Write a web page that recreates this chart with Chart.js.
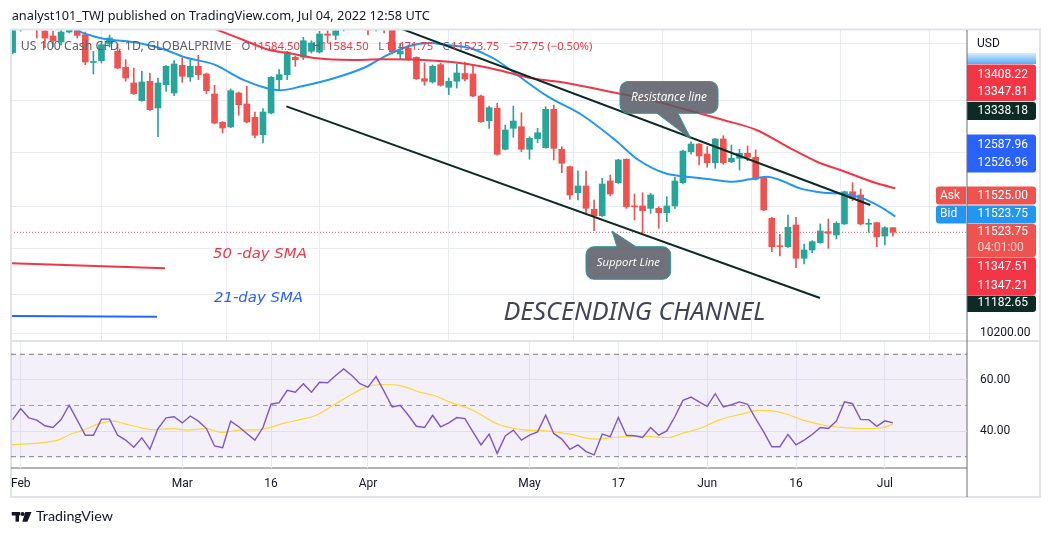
<!DOCTYPE html>
<html>
<head>
<meta charset="utf-8">
<title>US 100 Cash CFD</title>
<script src="https://cdn.jsdelivr.net/npm/chart.js@4.4.1/dist/chart.umd.min.js"></script>
<style>
  html, body { margin: 0; padding: 0; background: #fff; }
  #wrap { position: relative; width: 1049px; height: 536px; }
  #wrap canvas { position: absolute; left: 0; top: 0; }
</style>
</head>
<body>
<div id="wrap">
  <canvas id="price" width="1049" height="536"></canvas>
  <canvas id="rsi" width="1049" height="536"></canvas>
</div>
<script>
// ---- data (bar index 0 = Feb 1, -1 = Jan 31) ----
const firstBar = -1;
const opens = [13880,14254,14385,14464,14162,14097,14018,14149,14169,14114,
  13749,13773,13992,13896,13686,13481,13249,13503,13153,13458,
  13350,13713,13559,13700,13599,13337,12966,12904,13350,13206,
  13031,12803,13088,13524,13590,13818,13818,13896,13887,14123,
  14106,14188,14411,14306,14280,14202,14359,14280,13861,13939,
  13818,13537,13494,13721,13424,13503,13605,13599,13310,12987,
  13149,12612,12887,12908,12612,12751,12633,13136,12612,12384,
  12043,12131,11825,11741,12196,12174,12481,11869,11869,11838,
  11838,11781,11869,12174,12580,12681,12550,12436,12747,12449,
  12494,12559,12507,12245,11707,11344,11335,11620,11183,11292,
  11388,11532,11489,11633,12056,12013,11629,11650,11475,11584.5];
const highs = [14333,14438,14542,14516,14202,14162,14188,14280,14215,14149,
  13896,14027,14110,13992,13786,13677,13634,13612,13546,13710,
  13773,13808,13778,13844,13612,13451,12976,13402,13363,13438,
  13101,13144,13566,13655,13896,13831,14080,14035,14158,14166,
  14202,14464,14490,14385,14359,14385,14411,14306,14005,13966,
  13824,13743,13717,13743,13546,13730,13756,13717,13323,13179,
  13215,12930,13179,13091,12777,12887,13170,13192,12646,12393,
  12331,12327,11947,12232,12275,12481,12487,12026,12043,12035,
  11859,11990,12245,12603,12711,12688,12646,12753,12790,12668,
  12612,12655,12603,12253,11720,11498,11751,11720,11371,11414,
  11633,11698,11663,12065,12174,12091,11698,11656,11597,11584.5];
const lows = [13861,14162,14280,14070,13939,13953,13979,14136,14070,13721,
  13599,13743,13953,13668,13503,13330,13241,13120,12777,13372,
  13314,13490,13503,13524,13340,12946,12825,12894,13057,12959,
  12760,12694,13077,13393,13524,13700,13786,13874,13874,14005,
  14048,14162,14254,14188,14110,14162,14136,13861,13799,13776,
  13527,13451,13481,13441,13327,13415,13507,13301,12963,12887,
  12537,12603,12769,12580,12481,12698,12625,12472,12305,11956,
  11947,11773,11545,11731,12000,12164,11838,11685,11519,11773,
  11576,11663,11838,12157,12550,12406,12376,12363,12415,12436,
  12340,12462,12209,11807,11270,11213,11327,11060,11108,11257,
  11380,11314,11436,11626,11938,11620,11524,11335,11357,11471.75];
const closes = [14280,14359,14464,14215,14070,14031,14149,14228,14106,13756,
  13759,13983,14070,13677,13546,13340,13494,13131,13481,13700,
  13730,13569,13700,13590,13380,12956,12891,13380,13196,12970,
  12795,13101,13555,13590,13887,13786,14035,14005,14123,14106,
  14166,14411,14306,14202,14175,14333,14228,13887,13900,13786,
  13537,13503,13700,13451,13503,13612,13533,13310,12974,13157,
  12546,12865,12983,12612,12756,12829,13136,12625,12428,12013,
  12131,11838,11738,12157,12026,12472,11859,11857,11807,12013,
  11781,11869,12196,12589,12681,12524,12436,12747,12436,12494,
  12559,12507,12219,11816,11335,11334,11589,11183,11292,11401,
  11541,11511,11642,12056,11970,11633,11642,11466,11584,11523.75];

// moving averages: [bar index, price]
const sma21 = [[4.9,14306],[7.34,14153],[9.82,14071],[14.77,14001],[18.24,13904],[20.1,13825],
  [24.0,13721],[27.5,13524],[30.5,13411],[32.1,13385],[34.8,13437],[38.9,13546],[42.8,13694],
  [45.1,13831],[48.0,13962],[50.7,14005],[52.75,13979],[55.6,13939],[57.3,13870],[58.9,13782],
  [61.2,13608],[65.3,13301],[69.5,13061],[73.6,12734],[76.5,12471],[79.8,12297],[83.1,12245],
  [85.4,12218],[87.8,12187],[90.3,12218],[92.4,12253],[94.0,12209],[96.5,12100],[99.4,12043],
  [101.9,12026],[104.3,11969],[106.4,11860],[108.3,11731]];
const sma50 = [[22.8,14241],[24.4,14175],[27.5,14048],[30.7,13917],[33.3,13870],[36.7,13804],
  [40.8,13782],[44.9,13791],[49.2,13786],[53.4,13756],[57.3,13694],[59.1,13651],[63.3,13542],
  [67.4,13485],[71.5,13398],[74.4,13336],[78.1,13258],[81.8,13149],[87.0,12996],[91.1,12865],
  [95.3,12625],[98.6,12449],[101.5,12340],[106.0,12166],[108.3,12101]];

// drawn trend lines
const resistanceLine = [[47.0,14197],[105.2,11882]];
const supportLine = [[32.9,13175],[98.97,10663]];
const legendLine50 = [[-1.3,11118],[17.87,11052]];
const legendLine21 = [[-1.3,10427],[16.88,10418]];

// RSI(14) per bar and its moving average
const rsiValues = [44.5,48.8,45.2,44.3,42.1,41.4,44.5,50.1,44.3,38.4,
  38.4,44.7,44.7,38.4,36.5,33.7,37.4,32.9,41.0,45.2,
  45.6,43.2,45.9,43.9,41.0,34.2,33.5,43.9,41.7,39.1,
  36.5,41.4,50.5,51.1,55.9,55.2,58.5,55.2,59.1,58.9,
  61.7,64.3,61.7,58.5,57.2,61.3,55.5,49.4,50.1,46.2,
  41.9,41.4,46.2,41.7,43.2,45.3,44.9,39.7,34.6,38.8,
  31.3,38.1,40.4,36.5,38.4,39.7,46.2,39.1,36.9,32.9,
  34.6,32.0,30.7,38.8,37.8,45.3,38.4,38.2,37.5,41.4,
  38.4,40.1,45.6,52.0,53.3,51.4,49.7,54.6,49.4,50.3,
  51.4,50.5,44.9,39.7,33.9,33.9,38.7,34.6,36.5,38.7,
  41.4,41.0,43.9,51.4,50.7,44.5,44.5,41.9,44.0,43.2];
const rsiMA = [[-1.12,34.6],[1.56,35.2],[3.63,35.9],[4.87,36.8],[6.1,38.7],[7.75,40.4],[9.82,43.0],
  [11.47,43.9],[12.7,43.0],[14.77,41.4],[16.42,40.6],[18.9,41.0],[20.5,40.4],[23.0,41.0],
  [24.88,39.5],[27.15,40.4],[29.6,40.6],[30.9,41.4],[32.5,43.0],[34.6,44.5],[36.6,46.2],
  [38.7,50.1],[40.8,54.0],[42.8,57.2],[44.5,58.2],[46.97,57.8],[49.4,55.2],[51.1,54.0],
  [53.1,51.4],[56.0,48.1],[58.9,43.0],[62.0,40.6],[65.0,40.1],[68.0,38.8],[71.0,36.9],
  [73.6,37.5],[76.6,38.1],[78.3,37.8],[80.1,37.5],[82.2,39.4],[84.4,41.4],[86.1,43.9],
  [87.8,45.6],[89.5,46.8],[91.3,48.1],[93.0,47.9],[94.7,46.8],[96.9,44.3],[99.5,42.3],
  [102.0,41.4],[105.1,41.0],[106.8,41.4],[108,42.7]];
const rsiLevels = [70, 50, 30];

// time axis
const tickIdx = [0, 20, 31, 43, 63, 74, 85, 96, 107];
const tickText = ['Feb', 'Mar', '16', 'Apr', 'May', '17', 'Jun', '16', 'Jul'];
const priceGrid = [10200, 10711, 11314, 11868, 12572, 13249, 14005];
const rsiGrid = [40, 60];

// price scale labels
const sma50Tags = ['13408.22', '13347.81'];
const lineTagTop = '13338.18';
const sma21Tags = ['12587.96', '12526.96'];
const askPrice = '11525.00', bidPrice = '11523.75', countdown = '04:01:00';
const lowerTags = ['11347.51', '11347.21'];
const lineTagLow = '11182.65';

// ---- styling ----
const UP = '#26a69a', DOWN = '#ef5350';
const GRID = '#e9edf3';
const X_MIN = -1.2, X_MAX = 117.17;
const P_MIN = 10112.2, P_MAX = 14175.4;
const LINE_DARK = '#0b2b24';

Chart.defaults.font.family = 'Roboto';
Chart.defaults.color = '#131722';

const bars = opens.map((o, k) => ({ i: firstBar + k, o, h: highs[k], l: lows[k], c: closes[k] }));
const barColors = bars.map(b => (b.c >= b.o ? UP : DOWN));
const lastClose = closes[closes.length - 1];
const pts = arr => arr.map(([x, y]) => ({ x, y }));

function fitText(c, text, x, y, w, style, family, color, align) {
  c.font = style + ' 100px ' + family;
  const size = 100 * w / c.measureText(text).width;
  c.font = style + ' ' + size.toFixed(2) + 'px ' + family;
  c.fillStyle = color;
  c.textAlign = align || 'left';
  c.textBaseline = 'middle';
  c.fillText(text, x, y);
  return size;
}

function rrect(c, x, y, w, h, r) {
  const [tl, tr, br, bl] = r;
  c.moveTo(x + tl, y);
  c.lineTo(x + w - tr, y); c.arcTo(x + w, y, x + w, y + tr, tr);
  c.lineTo(x + w, y + h - br); c.arcTo(x + w, y + h, x + w - br, y + h, br);
  c.lineTo(x + bl, y + h); c.arcTo(x, y + h, x, y + h - bl, bl);
  c.lineTo(x, y + tl); c.arcTo(x, y, x + tl, y, tl);
  c.closePath();
}

// callout box with a pointer on the top or bottom edge
function callout(c, x1, y1, x2, y2, pa, pb, tx, ty, onTop, text, tw) {
  const r = 8;
  c.save();
  c.beginPath();
  c.moveTo(x1 + r, y1);
  if (onTop) { c.lineTo(pa, y1); c.lineTo(tx, ty); c.lineTo(pb, y1); }
  c.lineTo(x2 - r, y1); c.arcTo(x2, y1, x2, y1 + r, r);
  c.lineTo(x2, y2 - r); c.arcTo(x2, y2, x2 - r, y2, r);
  if (!onTop) { c.lineTo(pb, y2); c.lineTo(tx, ty); c.lineTo(pa, y2); }
  c.lineTo(x1 + r, y2); c.arcTo(x1, y2, x1, y2 - r, r);
  c.lineTo(x1, y1 + r); c.arcTo(x1, y1, x1 + r, y1, r);
  c.closePath();
  c.fillStyle = 'rgba(88,91,101,0.86)';
  c.fill();
  c.strokeStyle = '#2f9a9a';
  c.lineWidth = 1;
  c.stroke();
  fitText(c, text, (x1 + x2) / 2, (y1 + y2) / 2, tw, 'italic', '"Open Sans"', '#ffffff', 'center');
  c.restore();
}

function tagBox(c, top, bot, fill, rows) {
  c.beginPath();
  rrect(c, 967, top, 69, bot - top, [0, 3, 3, 0]);
  c.fillStyle = fill;
  c.fill();
  c.font = '12px Roboto';
  c.textAlign = 'left';
  c.textBaseline = 'middle';
  rows.forEach(([t, y, col]) => { c.fillStyle = col || '#ffffff'; c.fillText(t, 977.5, y); });
}

const overlay = {
  id: 'overlay',
  beforeDraw(chart) {
    const c = chart.ctx;
    c.save();
    c.fillStyle = '#ffffff';
    c.fillRect(0, 0, chart.width, chart.height);
    c.restore();
  },
  afterDraw(chart) {
    const c = chart.ctx;
    const yScale = chart.scales.y;
    c.save();

    // header and legend
    fitText(c, 'analyst101_TWJ published on TradingView.com, Jul 04, 2022 12:58 UTC', 11.7, 16, 418, '', '"Noto Sans"', '#131722');
    fitText(c, 'US 100 Cash CFD, 1D, GLOBALPRIME', 20.7, 46.5, 211, '', '"Noto Sans"', '#5d606b');
    c.font = '100px "Noto Sans"';
    const lsz = 100 * 48.3 / c.measureText('11584.50').width;
    c.font = lsz.toFixed(2) + 'px "Noto Sans"';
    c.textAlign = 'left';
    c.textBaseline = 'middle';
    [['O', 241.5, '#5d606b'], ['11584.50', 251.7, '#f23645'], ['H', 312.5, '#5d606b'], ['11584.50', 320.5, '#f23645'],
     ['L', 378.3, '#5d606b'], ['11471.75', 385, '#f23645'], ['C', 442.5, '#5d606b'], ['11523.75', 451, '#f23645'],
     ['\u221257.75 (\u22120.50%)', 509, '#f23645']].forEach(([t, x, col]) => { c.fillStyle = col; c.fillText(t, x, 46.5); });

    // annotation texts
    fitText(c, '50 -day SMA', 213, 254.5, 94, 'italic', '"DejaVu Sans"', '#f23645');
    fitText(c, '21-day SMA', 214, 298.5, 89, 'italic', '"DejaVu Sans"', '#2962ff');
    fitText(c, 'DESCENDING CHANNEL', 503.5, 313, 262, 'italic', '"Noto Sans"', '#434651');

    callout(c, 620, 81.5, 718, 113.3, 657, 678, 691, 139, false, 'Resistance line', 76);
    callout(c, 586, 246.7, 670.7, 279.3, 617, 636, 612, 231, true, 'Support Line', 63);

    // price scale tags
    c.fillStyle = '#131722';
    c.font = '12px Roboto';
    c.textAlign = 'left';
    c.textBaseline = 'middle';
    c.fillText('USD', 977, 44);
    const g = c.createLinearGradient(0, 52, 0, 64);
    g.addColorStop(0, 'rgba(66,165,245,0.15)');
    g.addColorStop(1, 'rgba(66,165,245,0.9)');
    c.fillStyle = g;
    c.fillRect(967, 53, 69, 11);
    tagBox(c, 64.5, 101, '#f23645', [[sma50Tags[0], 74.7], [sma50Tags[1], 92.3]]);
    tagBox(c, 102, 120, LINE_DARK, [[lineTagTop, 111.3]]);
    tagBox(c, 134.5, 172.5, '#2962ff', [[sma21Tags[0], 144.7], [sma21Tags[1], 163.3]]);
    tagBox(c, 186.5, 204.5, '#ef5350', [[askPrice, 195.5]]);
    tagBox(c, 205.5, 223.5, '#2196f3', [[bidPrice, 214.3]]);
    const py = yScale.getPixelForValue(lastClose);
    tagBox(c, 224, 257, '#ef5350', [[lastClose.toFixed(2), py], [countdown, 247.7, 'rgba(255,255,255,0.72)']]);
    tagBox(c, 257.5, 295, '#f23645', [[lowerTags[0], 266.7], [lowerTags[1], 285.7]]);
    tagBox(c, 295.5, 312, LINE_DARK, [[lineTagLow, 303.3]]);
    [['Ask', 186.5, '#ef5350', 195.5], ['Bid', 205.5, '#2196f3', 214.3]].forEach(([t, top, col, ty]) => {
      c.beginPath();
      rrect(c, 936, top, 30, 18, [3, 0, 0, 3]);
      c.fillStyle = col;
      c.fill();
      c.fillStyle = '#ffffff';
      c.font = '12px Roboto';
      c.fillText(t, 940, ty);
    });

    // widget frame and pane separators
    c.strokeStyle = '#e0e3eb';
    c.lineWidth = 2;
    c.strokeRect(11, 29.5, 1029, 467.5);
    c.fillStyle = '#e0e3eb';
    c.fillRect(11, 340, 1029, 2);
    c.fillStyle = '#6a6d78';
    c.fillRect(966.5, 30, 1, 467);
    c.fillRect(11, 467.5, 956, 1);

    // TradingView mark
    c.fillStyle = '#131722';
    c.fillRect(11.7, 512, 8.5, 3.5);
    c.fillRect(15.5, 512, 3.5, 9.7);
    c.beginPath();
    c.arc(22.6, 514, 2.1, 0, Math.PI * 2);
    c.fill();
    c.beginPath();
    c.moveTo(25.3, 512); c.lineTo(31.5, 512); c.lineTo(27.4, 521.7); c.lineTo(22.3, 521.7);
    c.closePath();
    c.fill();
    fitText(c, 'TradingView', 36, 516.7, 77, '', 'Lato', '#131722');
    c.restore();
  }
};

const lineDs = (data, color, width, order, extra) => Object.assign({
  type: 'line', data: pts(data), borderColor: color, borderWidth: width,
  pointRadius: 0, fill: false, order, clip: 0
}, extra || {});

new Chart(document.getElementById('price'), {
  type: 'bar',
  data: {
    datasets: [
      { type: 'bar', data: bars.map(b => ({ x: b.i, y: [b.l, b.h] })), backgroundColor: barColors,
        barThickness: 1, grouped: false, borderWidth: 0, order: 20, clip: 0 },
      { type: 'bar', data: bars.map(b => ({ x: b.i, y: [b.o, b.c] })), backgroundColor: barColors,
        barThickness: 6, minBarLength: 1, grouped: false, borderWidth: 0, order: 19, clip: 0 },
      lineDs([[X_MIN, lastClose], [X_MAX, lastClose]], '#ef5350', 1, 15, { borderDash: [1, 2] }),
      lineDs(sma21, '#2196f3', 2, 6, { cubicInterpolationMode: 'monotone' }),
      lineDs(sma50, '#f23645', 2, 5, { cubicInterpolationMode: 'monotone' }),
      lineDs(resistanceLine, LINE_DARK, 2, 2),
      lineDs(supportLine, LINE_DARK, 2, 2),
      lineDs(legendLine50, '#f23645', 2, 3),
      lineDs(legendLine21, '#2962ff', 2, 3)
    ]
  },
  options: {
    responsive: false,
    animation: false,
    events: [],
    layout: { padding: { left: 11, right: 9, top: 30, bottom: 196 }, autoPadding: false },
    plugins: { legend: { display: false }, tooltip: { enabled: false } },
    scales: {
      x: {
        type: 'linear', min: X_MIN, max: X_MAX, offset: false,
        afterBuildTicks: s => { s.ticks = tickIdx.map(v => ({ value: v })); },
        afterFit: s => { s.height = 0; },
        ticks: { display: false },
        grid: { color: GRID, drawTicks: false },
        border: { display: false }
      },
      y: {
        type: 'linear', position: 'right', min: P_MIN, max: P_MAX,
        afterBuildTicks: s => { s.ticks = priceGrid.map(v => ({ value: v })); },
        afterFit: s => { s.width = 73; },
        ticks: { callback: v => (v === 10200 ? v.toFixed(2) : ''), padding: 13, font: { size: 12 }, color: '#131722' },
        grid: { color: GRID, drawTicks: false },
        border: { display: false }
      }
    }
  },
  plugins: [overlay]
});

new Chart(document.getElementById('rsi'), {
  type: 'line',
  data: {
    datasets: [
      lineDs([[X_MIN, rsiLevels[0]], [X_MAX, rsiLevels[0]]], '#787b86', 1, 10, { borderDash: [5, 4] }),
      lineDs([[X_MIN, rsiLevels[2]], [X_MAX, rsiLevels[2]]], '#787b86', 1, 9,
        { borderDash: [5, 4], fill: '-1', backgroundColor: 'rgba(126,87,194,0.09)' }),
      lineDs([[X_MIN, rsiLevels[1]], [X_MAX, rsiLevels[1]]], 'rgba(120,123,134,0.7)', 1, 8, { borderDash: [5, 4] }),
      lineDs(rsiMA, '#fdd835', 1.2, 2, { cubicInterpolationMode: 'monotone' }),
      lineDs(rsiValues.map((v, k) => [firstBar + k, v]), '#7e57c2', 1.4, 1)
    ]
  },
  options: {
    responsive: false,
    animation: false,
    events: [],
    layout: { padding: { left: 11, right: 9, top: 342, bottom: 39 }, autoPadding: false },
    plugins: { legend: { display: false }, tooltip: { enabled: false } },
    scales: {
      x: {
        type: 'linear', min: X_MIN, max: X_MAX, offset: false,
        afterBuildTicks: s => { s.ticks = tickIdx.map(v => ({ value: v })); },
        afterFit: s => { s.height = 29; },
        ticks: { callback: (v, k) => tickText[k], autoSkip: false, maxRotation: 0, padding: 9,
                 font: { size: 12 }, color: '#131722' },
        grid: { color: GRID, drawTicks: false },
        border: { display: false }
      },
      y: {
        type: 'linear', position: 'right', min: 25.6, max: 74.8,
        afterBuildTicks: s => { s.ticks = rsiGrid.map(v => ({ value: v })); },
        afterFit: s => { s.width = 73; },
        ticks: { callback: v => v.toFixed(2), padding: 13, font: { size: 12 }, color: '#131722' },
        grid: { color: GRID, drawTicks: false },
        border: { display: false }
      }
    }
  }
});
</script>
</body>
</html>
